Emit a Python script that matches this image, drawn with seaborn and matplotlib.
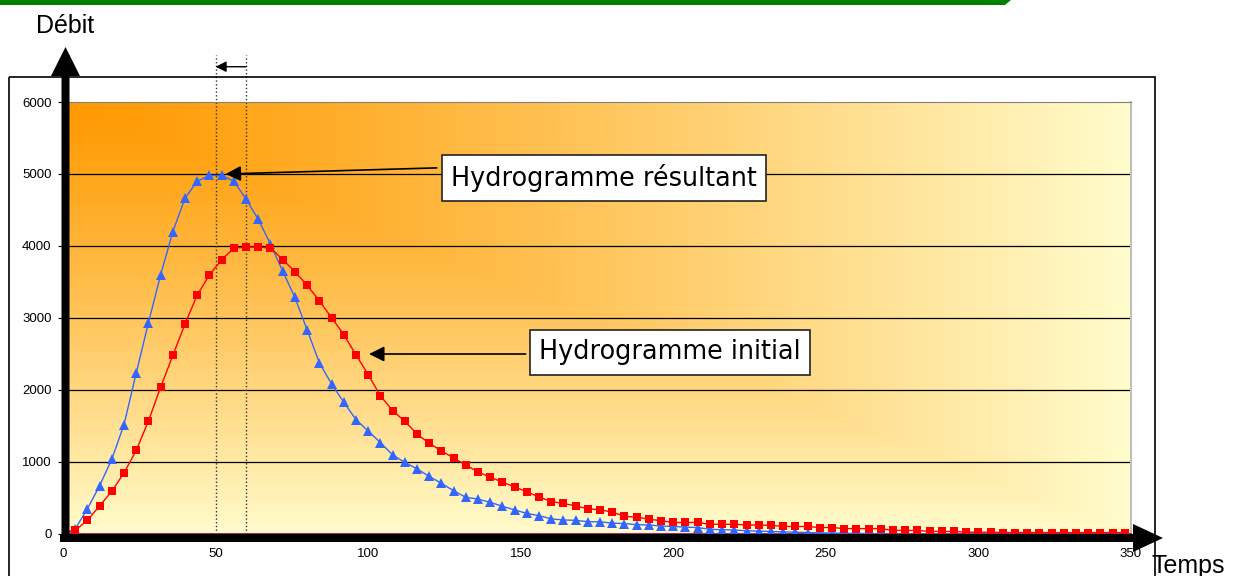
import numpy as np
import pandas as pd
import seaborn as sns
import matplotlib.pyplot as plt
from matplotlib.patches import FancyArrow, Rectangle, Polygon

# time steps (every 4 units, 0..348)
temps = list(range(0, 352, 4))

# initial hydrograph (red squares)
initial = [0, 50, 190, 390, 595, 850, 1160, 1570, 2040, 2480,
           2920, 3320, 3600, 3810, 3970, 3985, 3985, 3975, 3810, 3645,
           3455, 3240, 3005, 2770, 2490, 2215, 1920, 1715, 1565, 1390,
           1260, 1155, 1055, 960, 860, 790, 720, 655, 585, 515,
           450, 425, 390, 350, 335, 305, 245, 235, 205, 185,
           160, 160, 160, 135, 135, 135, 125, 125, 120, 105,
           105, 105, 90, 90, 75, 75, 75, 75, 50, 50,
           50, 35, 35, 35, 25, 25, 25, 20, 20, 20,
           20, 20, 20, 20, 20, 20, 20, 20]

# resulting hydrograph (blue triangles)
resultant = [0, 70, 350, 670, 1040, 1520, 2235, 2935, 3600, 4200,
             4665, 4900, 4980, 4980, 4900, 4650, 4370, 4025, 3650, 3285,
             2835, 2380, 2085, 1830, 1590, 1430, 1270, 1100, 995, 905,
             800, 705, 600, 510, 485, 440, 385, 335, 285, 255,
             210, 195, 190, 170, 170, 150, 145, 130, 125, 110,
             105, 95, 90, 65, 60, 55, 45, 40, 35, 30,
             25, 20, 15, 12, 10, 8, 5, 3, 0, 0,
             0, 0, 0, 0, 0, 0, 0, 0, 0, 0,
             0, 0, 0, 0, 0, 0, 0, 0]

x_ticks = list(range(0, 400, 50))
y_ticks = list(range(0, 7000, 1000))

df = pd.DataFrame({"Temps": temps, "initial": initial, "resultant": resultant})

sns.set_style("white")
plt.rcParams["font.family"] = ["Liberation Sans", "DejaVu Sans"]
plt.rcParams["text.color"] = "black"
plt.rcParams["xtick.color"] = "black"
plt.rcParams["ytick.color"] = "black"
plt.rcParams["axes.labelcolor"] = "black"

W, H = 1244, 576
fig = plt.figure(figsize=(W / 100, H / 100), dpi=100)
ax = fig.add_axes([63 / W, 42 / H, 1068 / W, 432 / H])

# orange -> light yellow gradient from top-left corner
xn = np.linspace(0, 1, 400)[None, :]
yn = np.linspace(0, 1, 200)[:, None]
t = np.maximum(xn, yn) ** 1.15
c0 = np.array([255, 153, 0]) / 255
c1 = np.array([255, 252, 204]) / 255
img = c0 + (c1 - c0) * t[..., None]
ax.imshow(img, extent=[0, 350, 0, 6000], aspect="auto", origin="upper",
          zorder=0, interpolation="bilinear")

for v in y_ticks[1:-1]:
    ax.axhline(v, color="black", lw=0.9, zorder=1)

sns.lineplot(data=df, x="Temps", y="resultant", ax=ax, color="#3366FF",
             marker="^", markersize=6.5, markeredgewidth=0, linewidth=1, zorder=3)
sns.lineplot(data=df, x="Temps", y="initial", ax=ax, color="#FF0000",
             marker="s", markersize=5.3, markeredgewidth=0, linewidth=1, zorder=4)

ax.set_xlim(0, 350)
ax.set_ylim(0, 6000)
ax.set_xticks(x_ticks)
ax.set_yticks(y_ticks)
ax.set_xlabel("")
ax.set_ylabel("")
ax.tick_params(axis="y", left=True, length=3.5, width=0.8, pad=4.8,
               labelsize=9.5, color="black", labelcolor="black")
ax.tick_params(axis="x", length=0, pad=10, labelsize=9.5, labelcolor="black")
ax.spines["left"].set_visible(False)
ax.spines["top"].set_color("#808080")
ax.spines["right"].set_color("#C0C0C0")
ax.spines["right"].set_linewidth(1.5)
ax.spines["bottom"].set_color("#993366")
ax.spines["bottom"].set_linewidth(1.5)

# peak shift markers
for xv in (50, 60):
    ax.plot([xv, xv], [0, 6650], ls=":", color="#333333", lw=1, clip_on=False, zorder=2)
ax.annotate("", xy=(50, 6490), xytext=(60, 6490), annotation_clip=False,
            arrowprops=dict(arrowstyle="-|>", color="black", lw=1,
                            mutation_scale=16, shrinkA=0, shrinkB=0))

# labelled arrows
ax.annotate("", xy=(53.3, 5000), xytext=(122.5, 5085),
            arrowprops=dict(arrowstyle="-|>", color="black", lw=1.2,
                            mutation_scale=23, shrinkA=0, shrinkB=0), zorder=5)
ax.annotate("", xy=(100.3, 2500), xytext=(151.6, 2500),
            arrowprops=dict(arrowstyle="-|>", color="black", lw=1.2,
                            mutation_scale=23, shrinkA=0, shrinkB=0), zorder=5)
box = dict(boxstyle="square,pad=0.36", fc="white", ec="#222222", lw=1.2)
ax.text(177.3, 4944, "Hydrogramme résultant", ha="center", va="center",
        fontsize=18.4, family="DejaVu Sans", bbox=box, zorder=6)
ax.text(199, 2521, "Hydrogramme initial", ha="center", va="center",
        fontsize=18.4, family="DejaVu Sans", bbox=box, zorder=6)

# overlay in pixel coordinates for frame, axis arrows and titles
ov = fig.add_axes([0, 0, 1, 1], zorder=10)
ov.set_xlim(0, W)
ov.set_ylim(H, 0)
ov.set_axis_off()
ov.patch.set_alpha(0)
ov.add_patch(Polygon([(0, 0), (1011, 0), (1005, 5), (0, 5)], closed=True,
                     color="#008000", lw=0))
ov.add_patch(Rectangle((9, 77), 1146, 600, fill=False, ec="black", lw=1.2))
ov.add_patch(FancyArrow(65.5, 542, 0, -495, width=8, head_width=29,
                        head_length=29, length_includes_head=True,
                        color="black", lw=0))
ov.add_patch(FancyArrow(60, 538, 1103, 0, width=8, head_width=28,
                        head_length=30, length_includes_head=True,
                        color="black", lw=0))
ov.text(65.5, 33, "Débit", ha="center", va="baseline", fontsize=18)
ov.text(1152, 573, "Temps", ha="left", va="baseline", fontsize=18)

fig.savefig("out.png", dpi=100)
